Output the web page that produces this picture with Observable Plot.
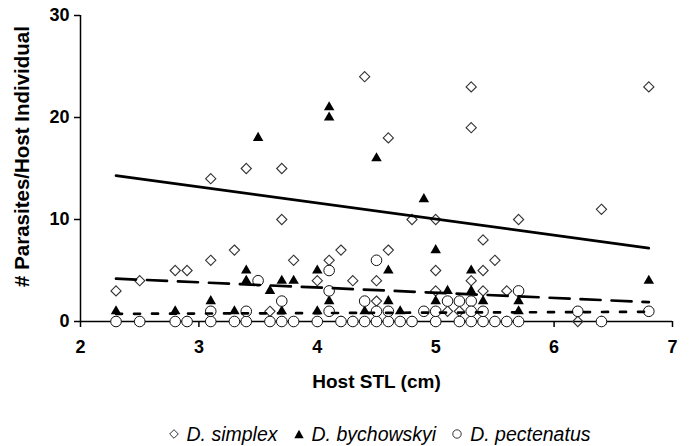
<!DOCTYPE html>
<html>
<head>
<meta charset="utf-8">
<script src="https://cdn.jsdelivr.net/npm/d3@7"></script>
<script src="https://cdn.jsdelivr.net/npm/@observablehq/plot@0.6"></script>
<style>
  html, body { margin: 0; padding: 0; background: #fff; }
  #chart { width: 689px; height: 418px; }
  #legend { width: 689px; height: 28px; box-sizing: border-box; padding-left: 70px; padding-top: 4px;
    display: flex; justify-content: center; align-items: center;
    font-family: "Liberation Sans", Arial, sans-serif; font-style: italic; font-size: 19.5px; color: #000; }
  #legend .item { display: flex; align-items: center; margin: 0 8px; }
  #legend svg { margin-right: 8px; }
</style>
</head>
<body>
<div id="chart"></div>
<div id="legend"></div>
<script>
// ---- data ----
const seriesNames = ["D. simplex", "D. bychowskyi", "D. pectenatus"];

const simplexX = [2.3, 2.5, 2.8, 2.9, 3.1, 3.1, 3.3, 3.4, 3.6, 3.7, 3.7, 3.8, 4.0, 4.1, 4.2, 4.3, 4.4, 4.5, 4.5, 4.6, 4.6, 4.8, 5.0, 5.0, 5.0, 5.1, 5.2, 5.3, 5.3, 5.3, 5.4, 5.4, 5.4, 5.5, 5.6, 5.7, 6.2, 6.4, 6.8];
const simplexY = [3, 4, 5, 5, 6, 14, 7, 15, 1, 15, 10, 6, 4, 6, 7, 4, 24, 4, 2, 18, 7, 10, 10, 5, 3, 1, 1, 23, 19, 4, 8, 5, 3, 6, 3, 10, 0, 11, 23];

const bychowskyiX = [2.3, 2.5, 2.8, 2.9, 3.1, 3.3, 3.4, 3.4, 3.4, 3.5, 3.6, 3.7, 3.7, 3.8, 4.0, 4.0, 4.1, 4.1, 4.1, 4.2, 4.3, 4.4, 4.5, 4.5, 4.6, 4.6, 4.7, 4.8, 4.9, 5.0, 5.0, 5.0, 5.1, 5.2, 5.3, 5.3, 5.4, 5.4, 5.5, 5.6, 5.7, 5.7, 6.4, 6.8];
const bychowskyiY = [1, 0, 1, 0, 2, 1, 5, 4, 0, 18, 3, 4, 1, 4, 5, 1, 21, 20, 2, 0, 0, 1, 16, 0, 5, 2, 1, 0, 12, 7, 2, 0, 3, 2, 5, 3, 2, 0, 0, 0, 2, 1, 0, 4];

const pectenatusX = [2.3, 2.5, 2.8, 2.9, 3.1, 3.3, 3.4, 3.6, 3.7, 3.8, 4.0, 4.2, 4.3, 4.4, 4.5, 4.6, 4.7, 4.8, 5.0, 5.2, 5.3, 5.4, 5.5, 5.6, 5.7, 6.4,
                     3.1, 3.4, 3.5, 3.7, 4.1, 4.1, 4.1, 4.4, 4.5, 4.5, 4.6, 4.9, 5.0, 5.1, 5.2, 5.3, 5.3, 5.4, 5.7, 6.2, 6.8];
const pectenatusY = [0, 0, 0, 0, 0, 0, 0, 0, 0, 0, 0, 0, 0, 0, 0, 0, 0, 0, 0, 0, 0, 0, 0, 0, 0, 0,
                     1, 1, 4, 2, 5, 3, 1, 2, 6, 1, 1, 1, 1, 2, 2, 2, 1, 1, 3, 1, 1];

// fitted trend lines (end points)
const trendX = [2.3, 6.8];
const simplexTrend = [14.3, 7.2];
const bychowskyiTrend = [4.2, 1.9];
const pectenatusTrend = [0.75, 0.95];

const xTicks = [2, 3, 4, 5, 6, 7];
const yTicks = [0, 10, 20, 30];
const xTitle = "Host STL (cm)";
const yTitle = "# Parasites/Host Individual";

// ---- build tables ----
const toRows = (xs, ys) => xs.map((x, i) => ({x, y: ys[i]}));
const simplex = toRows(simplexX, simplexY);
const bychowskyi = toRows(bychowskyiX, bychowskyiY);
const pectenatus = toRows(pectenatusX, pectenatusY);
const tSimplex = toRows(trendX, simplexTrend);
const tBychowskyi = toRows(trendX, bychowskyiTrend);
const tPectenatus = toRows(trendX, pectenatusTrend);

const chart = Plot.plot({
  width: 689,
  height: 418,
  marginLeft: 80,
  marginRight: 17,
  marginTop: 15,
  marginBottom: 97,
  style: {fontFamily: "'Liberation Sans', Arial, sans-serif", fontSize: "18px", fontWeight: "bold", color: "#000", background: "#fff"},
  x: {domain: [2, 7]},
  y: {domain: [0, 30]},
  marks: [
    Plot.axisX({ticks: xTicks, tickFormat: d3.format("d"), tickSize: 6, tickPadding: 13, strokeWidth: 1.5, label: null}),
    Plot.axisY({ticks: yTicks, tickFormat: d3.format("d"), tickSize: 6, tickPadding: 5, strokeWidth: 1.5, label: null}),
    Plot.ruleY([0], {stroke: "#000", strokeWidth: 1.5}),
    Plot.ruleX([2], {stroke: "#000", strokeWidth: 1.5}),
    Plot.dot(simplex, {x: "x", y: "y", symbol: "diamond2", r: 4.6, stroke: "#333", strokeWidth: 1.1, fill: "none"}),
    Plot.dot(bychowskyi, {x: "x", y: "y", symbol: "triangle", r: 3.9, fill: "#000", stroke: "none"}),
    Plot.dot(pectenatus, {x: "x", y: "y", symbol: "circle", r: 5.3, fill: "#fff", stroke: "#111", strokeWidth: 1}),
    Plot.line(tSimplex, {x: "x", y: "y", stroke: "#000", strokeWidth: 2.7}),
    Plot.line(tBychowskyi, {x: "x", y: "y", stroke: "#000", strokeWidth: 2.7, strokeDasharray: "20,11"}),
    Plot.line(tPectenatus, {x: "x", y: "y", stroke: "#000", strokeWidth: 2.7, strokeDasharray: "6,12"}),
    Plot.text([xTitle], {frameAnchor: "bottom", text: d => d, dy: 66, fontSize: 19, fontWeight: "bold"}),
    Plot.text([yTitle], {frameAnchor: "left", text: d => d, textAnchor: "middle", rotate: -90, dx: -58, dy: -12, fontSize: 20.5, fontWeight: "bold"})
  ]
});
document.getElementById("chart").appendChild(chart);

// ---- legend ----
const legend = document.getElementById("legend");
const symbolsSvg = [
  '<svg width="10" height="10" viewBox="-5 -5 10 10"><path d="M0,-4.3L4.3,0L0,4.3L-4.3,0Z" fill="none" stroke="#333" stroke-width="1"/></svg>',
  '<svg width="10" height="10" viewBox="-5 -5 10 10"><path d="M0,-4.3L4.7,4.3L-4.7,4.3Z" fill="#000"/></svg>',
  '<svg width="10" height="10" viewBox="-5 -5 10 10"><circle r="4.2" fill="#fff" stroke="#333" stroke-width="1"/></svg>'
];
seriesNames.forEach((name, i) => {
  const item = document.createElement("span");
  item.className = "item";
  item.innerHTML = symbolsSvg[i];
  const label = document.createElement("span");
  label.textContent = name;
  item.appendChild(label);
  legend.appendChild(item);
});
</script>
</body>
</html>
